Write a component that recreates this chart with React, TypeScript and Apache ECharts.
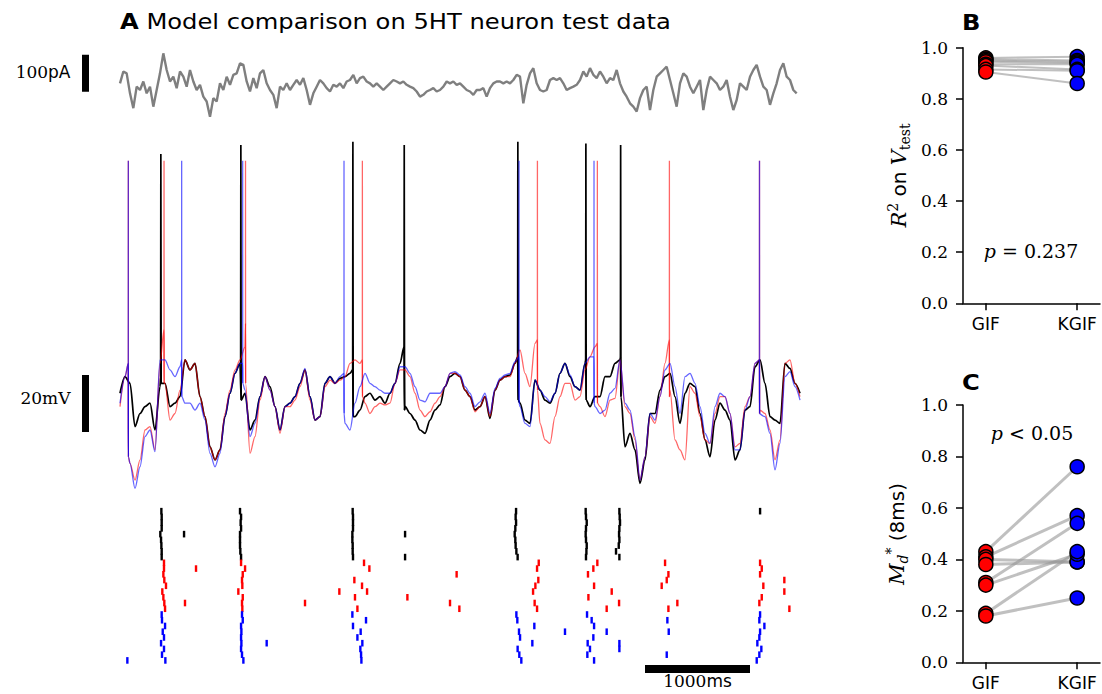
import React, { useEffect, useRef } from "react";
import * as echarts from "echarts";

// ---------- DATA ----------
// injected current (pA), sampled every CURRENT_DT ms from t = 0
const CURRENT_DT = 31.746;
const CURRENT_PA = [
  108, 140, 135, 81, 41, 99, 90, 113, 81, 99, 45, 90, 135, 189, 144, 113, 126, 95, 140, 126,
  99, 144, 113, 90, 104, 72, 59, 18, 68, 59, 108, 90, 126, 104, 131, 135, 162, 158, 113, 86,
  122, 95, 135, 144, 108, 90, 77, 41, 99, 90, 108, 90, 104, 117, 104, 122, 90, 50, 81, 99,
  117, 108, 95, 86, 104, 99, 108, 95, 113, 117, 131, 108, 122, 126, 113, 108, 99, 108, 99, 90,
  99, 108, 117, 113, 108, 113, 104, 99, 95, 86, 72, 77, 86, 90, 95, 86, 90, 99, 113,
  108, 113, 104, 108, 99, 90, 86, 77, 90, 90, 95, 72, 95, 108, 113, 113, 108, 113, 108, 117,
  131, 126, 54, 104, 135, 149, 108, 90, 86, 90, 117, 122, 117, 122, 108, 90, 95, 99, 104, 117,
  140, 126, 149, 131, 122, 140, 126, 108, 122, 117, 144, 108, 86, 72, 54, 45, 32, 68, 90, 99,
  36, 90, 126, 135, 144, 153, 117, 81, 45, 108, 135, 126, 99, 81, 99, 117, 36, 90, 126, 117,
  108, 90, 99, 117, 72, 36, 63, 108, 99, 90, 126, 144, 158, 126, 99, 90, 50, 81, 108, 144,
  162, 126, 117, 90, 81,
];

// membrane potential (mV), sampled every VOLT_DT ms from t = 0
const VOLT_DT = 47.619;
const DATA_V = [
  -50.4, -44.6, -46.9, -62.1, -57.5, -55.1, -53.9, -63.3, -48.1, -46.9,
  -55.1, -53.9, -51.6, -38.7, -42.2, -39.9, -51.6, -58.6, -69.2, -73.8,
  -70.3, -58.6, -50.4, -43.4, -39.9, -50.4, -63.3, -59.8, -51.6, -44.6,
  -48.1, -55.1, -63.3, -55.1, -53.9, -51.6, -46.9, -42.2, -51.6, -59.8,
  -58.6, -46.9, -44.6, -46.9, -45.2, -44.6, -43.4, -58.6, -56.3, -51.6,
  -50.4, -52.8, -51.6, -53.9, -50.4, -46.9, -39.9, -55.0, -57.5, -59.8,
  -63.3, -64.5, -59.8, -56.3, -54.5, -48.1, -44.6, -43.4, -44.6, -49.3,
  -51.6, -56.3, -55.1, -51.6, -59.2, -49.3, -45.8, -44.6, -44.0, -39.9,
  -53.9, -59.8, -61.0, -45.8, -49.3, -52.8, -53.9, -50.4, -43.4, -39.9,
  -44.6, -48.1, -49.3, -39.9, -55.1, -51.6, -51.6, -44.6, -44.6, -39.9,
  -38.7, -69.2, -64.5, -70.3, -82.0, -73.8, -57.5, -57.5, -49.3, -44.6,
  -43.4, -51.6, -61.0, -50.4, -46.9, -48.1, -57.5, -66.8, -72.7, -59.8,
  -53.9, -56.3, -59.8, -73.8, -70.3, -56.3, -55.1, -41.1, -38.7, -46.9,
  -58.6, -59.8, -61.0, -39.9, -41.7, -46.9, -50.4,
];
const GIF_V = [
  -55.1, -44.6, -75.0, -80.9, -73.8, -63.3, -62.1, -70.3, -39.9, -46.9,
  -59.8, -57.5, -49.3, -38.7, -42.2, -39.9, -51.6, -58.6, -69.2, -73.8,
  -70.3, -57.5, -49.3, -42.2, -38.7, -34.1, -71.5, -65.6, -52.8, -44.6,
  -49.3, -55.1, -64.5, -55.1, -55.1, -52.8, -48.1, -42.2, -52.8, -59.8,
  -58.6, -48.1, -45.8, -46.9, -45.8, -44.6, -39.9, -38.7, -39.9, -53.9,
  -57.5, -55.1, -53.9, -54.5, -53.9, -46.9, -42.2, -42.2, -44.6, -50.4,
  -56.3, -58.6, -56.9, -53.9, -51.6, -48.1, -43.4, -43.4, -44.6, -49.3,
  -51.6, -56.9, -55.1, -51.6, -58.6, -49.3, -45.8, -44.6, -44.6, -39.9,
  -35.2, -43.4, -48.1, -32.9, -61.0, -66.8, -68.0, -58.6, -51.6, -46.9,
  -46.9, -52.8, -51.6, -42.2, -37.6, -34.1, -55.1, -58.6, -52.8, -52.2,
  -38.7, -55.1, -57.5, -66.8, -80.9, -72.7, -58.6, -61.0, -51.6, -39.9,
  -49.3, -66.8, -70.3, -73.8, -48.1, -50.4, -58.6, -66.8, -68.0, -57.5,
  -51.6, -51.6, -57.5, -69.2, -68.0, -55.1, -51.6, -39.9, -56.3, -57.5,
  -63.3, -73.8, -66.8, -39.9, -38.7, -46.9, -51.6,
];
const KGIF_V = [
  -53.9, -44.6, -75.0, -83.8, -76.2, -65.6, -63.3, -70.9, -38.7, -38.7,
  -42.2, -44.6, -41.1, -53.9, -53.9, -56.3, -53.9, -59.8, -71.5, -76.2,
  -71.5, -58.6, -50.4, -43.4, -39.9, -49.3, -65.6, -61.0, -51.6, -44.6,
  -49.3, -55.1, -63.3, -55.1, -53.9, -51.6, -46.9, -41.7, -51.6, -59.8,
  -58.6, -46.9, -44.6, -46.9, -44.6, -61.0, -63.3, -53.9, -48.1, -43.4,
  -46.9, -48.1, -49.3, -50.4, -50.4, -46.9, -41.1, -41.1, -43.4, -48.1,
  -52.8, -53.4, -50.4, -50.4, -50.4, -48.1, -43.4, -42.8, -44.0, -48.1,
  -50.4, -55.1, -53.4, -50.4, -57.5, -48.7, -45.2, -44.0, -43.4, -39.3,
  -55.1, -61.0, -62.1, -45.8, -49.3, -51.6, -53.4, -50.4, -43.4, -39.9,
  -44.0, -48.1, -49.3, -39.9, -37.6, -55.1, -57.5, -56.3, -50.4, -48.7,
  -38.7, -53.9, -56.3, -65.6, -80.9, -72.7, -57.5, -59.8, -51.6, -42.2,
  -39.9, -48.1, -57.5, -44.6, -43.4, -46.9, -55.1, -64.5, -68.0, -55.1,
  -50.4, -51.6, -57.5, -70.3, -70.3, -56.3, -51.6, -39.9, -57.5, -58.6,
  -64.5, -77.3, -68.0, -44.6, -42.8, -48.1, -52.8,
];

// spikes: [time ms, V before, V peak, V after]
const DATA_SPIKES = [
  [387, -44.6, 33.6, -46.9], [1149, -39.9, 36.7, -52.8], [2216, -42.2, 37.9, -58.6],
  [2705, -34.1, 36.7, -56.3], [3787, -37.6, 37.9, -52.8], [4435, -38.7, 37.3, -52.8],
  [4766, -37.6, 36.7, -51.6],
];
const GIF_SPIKES = [
  [79, -39.9, 31.2, -72.7], [419, -28.2, 31.2, -46.9], [1195, -25.9, 31.2, -46.9],
  [2308, -38.7, 31.2, -51.6], [3975, -31.7, 31.2, -49.3], [4546, -32.9, 31.2, -53.9],
  [5232, -31.7, 31.2, -51.6], [6090, -38.7, 31.2, -57.5],
];
const KGIF_SPIKES = [
  [79, -39.9, 31.2, -72.7], [587, -38.7, 31.2, -51.6], [1168, -39.9, 31.2, -46.9],
  [2133, -43.4, 31.2, -57.5], [3800, -37.6, 31.2, -53.9], [4514, -37.6, 31.2, -53.9],
  [6090, -38.7, 31.2, -57.5],
];

// raster: [spike time ms, trial 0..8]
const DATA_RASTER = [
  [394, 0], [397, 1], [397, 2], [397, 3], [384, 4], [391, 5], [394, 6], [397, 7], [397, 8],
  [610, 4],
  [1143, 0], [1153, 1], [1149, 2], [1153, 3], [1143, 4], [1143, 5], [1143, 6], [1146, 7], [1153, 8],
  [2216, 0], [2219, 1], [2219, 2], [2219, 3], [2213, 4], [2213, 5], [2216, 6], [2216, 7], [2219, 8],
  [2715, 4], [2715, 8],
  [3772, 0], [3768, 1], [3772, 2], [3765, 3], [3759, 4], [3765, 5], [3768, 6], [3775, 7], [3787, 8],
  [4435, 0], [4438, 1], [4445, 2], [4438, 3], [4435, 4], [4438, 5], [4445, 6], [4442, 7], [4438, 8],
  [4756, 0], [4759, 1], [4762, 2], [4756, 3], [4753, 4], [4756, 5], [4750, 6], [4724, 7], [4756, 8],
  [6096, 0],
];
const GIF_RASTER = [
  [419, 0], [419, 1], [413, 2], [422, 3], [438, 4], [403, 5], [413, 6], [422, 7], [429, 8],
  [724, 1], [619, 7],
  [1153, 0], [1191, 1], [1169, 2], [1162, 3], [1165, 4], [1127, 5], [1169, 6], [1162, 7], [1165, 8],
  [1762, 7],
  [2324, 0], [2375, 1], [2232, 3], [2305, 4], [2089, 5], [2353, 5], [2238, 6], [2261, 8],
  [2737, 6],
  [3206, 2], [3143, 7], [3232, 8],
  [3988, 0], [3972, 1], [3984, 3], [3956, 4], [3934, 5], [3949, 7], [3972, 8],
  [4546, 0], [4508, 1], [4457, 2], [4515, 4], [4461, 6], [4635, 8], [4683, 5], [4753, 7],
  [5191, 0], [5223, 2], [5207, 3], [5159, 4], [5308, 7], [5223, 8],
  [6096, 0], [6112, 1], [6096, 2], [6127, 4], [6112, 6], [6089, 7],
  [6327, 3], [6327, 5], [6375, 8],
];
const KGIF_RASTER = [
  [397, 0], [400, 1], [429, 2], [407, 3], [419, 4], [391, 5], [419, 6], [400, 7], [432, 8],
  [70, 8],
  [1162, 0], [1169, 1], [1153, 2], [1156, 3], [1153, 4], [1156, 5], [1153, 6], [1162, 7], [1175, 8],
  [1397, 5],
  [2213, 0], [2343, 1], [2219, 2], [2292, 3], [2261, 4], [2308, 5], [2289, 6], [2296, 7], [2299, 8],
  [3775, 0], [3784, 1], [3800, 3], [3810, 4], [3787, 6], [3803, 7], [3822, 8],
  [3946, 2], [3927, 5], [4238, 3],
  [4448, 0], [4492, 1], [4515, 2], [4508, 4], [4454, 5], [4476, 6], [4451, 7], [4515, 8],
  [4635, 3], [4756, 5], [4756, 6],
  [5213, 1], [5226, 3], [5207, 7],
  [6096, 0], [6089, 1], [6137, 2], [6096, 3], [6089, 4], [6070, 5], [6108, 6], [6089, 7], [6064, 8],
];

// per-cell performance
const MODELS = ["GIF", "KGIF"];
const R2_GIF = [0.96, 0.955, 0.95, 0.945, 0.935, 0.93, 0.915, 0.905];
const R2_KGIF = [0.965, 0.95, 0.945, 0.94, 0.935, 0.915, 0.91, 0.86];
const MD_GIF = [0.43, 0.41, 0.4, 0.38, 0.31, 0.3, 0.19, 0.18];
const MD_KGIF = [0.76, 0.57, 0.39, 0.39, 0.54, 0.42, 0.43, 0.25];
const P_R2 = "0.237";
const P_MD = "0.05";

// scale bars
const BAR_PA = [85, 185];
const BAR_MV = [-64, -44];
const BAR_MS = [5000, 6000];

// ---------- LAYOUT ----------
const PX_PER_MS = 0.105;
const T_MIN = -120 / PX_PER_MS;
const T_MAX = 690 / PX_PER_MS;
const BAR_T = -34.5 / PX_PER_MS;
const RASTER_ROWS = 9;

// sub-threshold trace: samples plus the spike foot points
function subthreshold(vals: number[], spikes: number[][], width: number) {
  const pts: number[][] = vals.map((v, i) => [i * VOLT_DT, v]);
  for (const [t, a, , b] of spikes) {
    pts.push([t, a], [t + width, b]);
  }
  pts.sort((u, w) => u[0] - w[0]);
  return pts;
}

function spikeSeries(spikes: number[][], width: number, color: string, lw: number) {
  return spikes.map(([t, a, p, b]) => ({
    type: "line",
    xAxisIndex: 1,
    yAxisIndex: 1,
    data: [[t, a], [t + width * 0.4, p], [t + width, b]],
    symbol: "none",
    silent: true,
    lineStyle: { color, width: lw, join: "miter" },
  }));
}

function traceSeries(vals: number[], spikes: number[][], width: number, color: string, lw: number) {
  return [
    {
      type: "line",
      xAxisIndex: 1,
      yAxisIndex: 1,
      data: subthreshold(vals, spikes, width),
      symbol: "none",
      smooth: 0.3,
      smoothMonotone: "x",
      silent: true,
      lineStyle: { color, width: lw },
    },
    ...spikeSeries(spikes, width, color, lw),
  ];
}

const serif = "DejaVu Serif";
const sans = "DejaVu Sans";

function hiddenAxis(grid: number, min: number, max: number, inverse = false) {
  return { type: "value", gridIndex: grid, min, max, inverse, show: false, splitLine: { show: false } };
}

function panelAxes(grid: number) {
  const x = {
    type: "value",
    gridIndex: grid,
    min: -0.25,
    max: 1.25,
    axisLine: { show: true, onZero: false, lineStyle: { color: "#000", width: 1.5 } },
    axisTick: { show: true, customValues: [0, 1], length: 7, lineStyle: { color: "#000", width: 1.5 } },
    axisLabel: {
      show: true,
      customValues: [0, 1],
      formatter: (v: number) => MODELS[Math.round(v)] ?? "",
      fontFamily: sans,
      fontSize: 17,
      color: "#000",
      margin: 12,
    },
    splitLine: { show: false },
  };
  const y = {
    type: "value",
    gridIndex: grid,
    min: 0,
    max: 1,
    interval: 0.2,
    axisLine: { show: true, onZero: false, lineStyle: { color: "#000", width: 1.5 } },
    axisTick: { show: true, length: 7, lineStyle: { color: "#000", width: 1.5 } },
    axisLabel: {
      fontFamily: serif,
      fontSize: 17,
      color: "#000",
      margin: 15,
      formatter: (v: number) => v.toFixed(1),
    },
    splitLine: { show: false },
  };
  return { x, y };
}

function pairSeries(axis: number, a: number[], b: number[], lw: number) {
  const lines = a.map((g, i) => ({
    type: "line",
    xAxisIndex: axis,
    yAxisIndex: axis,
    data: [[0, g], [1, b[i]]],
    symbol: "none",
    silent: true,
    z: 2,
    lineStyle: { color: "rgba(150,150,150,0.6)", width: lw },
  }));
  const dots = [
    { vals: a, x: 0, color: "#ff0000" },
    { vals: b, x: 1, color: "#0000ff" },
  ].map((d) => ({
    type: "scatter",
    xAxisIndex: axis,
    yAxisIndex: axis,
    data: d.vals.map((v) => [d.x, v]),
    symbol: "circle",
    symbolSize: 14,
    z: 3,
    itemStyle: { color: d.color, borderColor: "#000", borderWidth: 1.5, opacity: 1 },
  }));
  return [...lines, ...dots];
}

function labelPoint(axis: number, pt: number[], text: string, position: string, distance: number) {
  return {
    type: "scatter",
    xAxisIndex: axis,
    yAxisIndex: axis,
    data: [pt],
    symbolSize: 0,
    z: 5,
    itemStyle: { color: "#000", opacity: 1 },
    silent: true,
    label: {
      show: true,
      position,
      distance,
      formatter: text,
      color: "#000",
      opacity: 1,
      textBorderWidth: 0,
      rich: {
        n: { fontFamily: serif, fontSize: 17, color: "#000", opacity: 1 },
        u: { fontFamily: sans, fontSize: 17, color: "#000", opacity: 1 },
      },
    },
  };
}

function rasterSeries(data: number[][], offset: number, color: string) {
  return {
    type: "scatter",
    xAxisIndex: 2,
    yAxisIndex: 2,
    data: data.map(([t, r]) => [t, offset + r + 0.5]),
    symbol: "rect",
    symbolSize: [2.4, 6.6],
    itemStyle: { color, opacity: 1 },
    silent: true,
  };
}

export default function App() {
  const ref = useRef<HTMLDivElement>(null);
  useEffect(() => {
    const chart = echarts.init(ref.current!, null, { renderer: "svg" });
    const pB = panelAxes(3);
    const pC = panelAxes(4);
    const option: any = {
      animation: false,
      backgroundColor: "#fff",
      textStyle: { fontFamily: sans },
      grid: [
        { left: 0, top: 40, width: 810, height: 83.333, outerBoundsMode: "none" },
        { left: 0, top: 130, width: 810, height: 370, outerBoundsMode: "none" },
        { left: 0, top: 508.3, width: 810, height: 5.74 * 32, outerBoundsMode: "none" },
        { left: 963, top: 47.7, width: 137, height: 255.6, outerBoundsMode: "none" },
        { left: 963, top: 405, width: 137, height: 257.3, outerBoundsMode: "none" },
      ],
      xAxis: [
        hiddenAxis(0, T_MIN, T_MAX),
        hiddenAxis(1, T_MIN, T_MAX),
        hiddenAxis(2, T_MIN, T_MAX),
        pB.x,
        pC.x,
      ],
      yAxis: [
        hiddenAxis(0, 0, 225),
        hiddenAxis(1, 42 - 370 * 0.351, 42),
        hiddenAxis(2, 0, 32, true),
        pB.y,
        pC.y,
      ],
      series: [
        {
          type: "line",
          xAxisIndex: 0,
          yAxisIndex: 0,
          data: CURRENT_PA.map((v, i) => [i * CURRENT_DT, v]),
          symbol: "none",
          silent: true,
          lineStyle: { color: "#7f7f7f", width: 2.4, join: "bevel" },
        },
        {
          type: "line",
          xAxisIndex: 0,
          yAxisIndex: 0,
          data: BAR_PA.map((v) => [BAR_T, v]),
          symbol: "none",
          lineStyle: { color: "#000", width: 7, cap: "butt" },
        },
        labelPoint(0, [BAR_T, 139], "{n|100}{u|pA}", "left", 15),
        ...traceSeries(DATA_V, DATA_SPIKES, 5, "#000000", 1.7),
        ...traceSeries(GIF_V, GIF_SPIKES, 1, "rgba(255,0,0,0.6)", 1.3),
        ...traceSeries(KGIF_V, KGIF_SPIKES, 1, "rgba(0,0,255,0.6)", 1.3),
        {
          type: "line",
          xAxisIndex: 1,
          yAxisIndex: 1,
          data: BAR_MV.map((v) => [BAR_T, v]),
          symbol: "none",
          lineStyle: { color: "#000", width: 7, cap: "butt" },
        },
        labelPoint(1, [BAR_T, -52], "{n|20mV}", "left", 15),
        rasterSeries(DATA_RASTER, 0, "#000000"),
        rasterSeries(GIF_RASTER, RASTER_ROWS, "#ff0000"),
        rasterSeries(KGIF_RASTER, RASTER_ROWS * 2, "#0000ff"),
        {
          type: "line",
          xAxisIndex: 2,
          yAxisIndex: 2,
          data: BAR_MS.map((t) => [t, 28]),
          symbol: "none",
          lineStyle: { color: "#000", width: 8, cap: "butt" },
        },
        labelPoint(2, [(BAR_MS[0] + BAR_MS[1]) / 2, 28], "{n|1000}{u|ms}", "bottom", 3),
        ...pairSeries(3, R2_GIF, R2_KGIF, 2),
        ...pairSeries(4, MD_GIF, MD_KGIF, 3),
      ],
      graphic: [
        {
          type: "text",
          x: 120,
          y: 21,
          scaleX: 1.1,
          style: {
            text: "{b|A} Model comparison on 5HT neuron test data",
            fontFamily: sans,
            fontSize: 22,
            fill: "#000",
            verticalAlign: "middle",
            rich: { b: { fontFamily: sans, fontSize: 22, fontWeight: "bold" } },
          },
        },
        {
          type: "text",
          x: 962,
          y: 22.5,
          scaleX: 1.1,
          style: { text: "B", fontFamily: sans, fontSize: 22, fontWeight: "bold", fill: "#000", verticalAlign: "middle" },
        },
        {
          type: "text",
          x: 962,
          y: 382.5,
          scaleX: 1.1,
          style: { text: "C", fontFamily: sans, fontSize: 22, fontWeight: "bold", fill: "#000", verticalAlign: "middle" },
        },
        {
          type: "text",
          x: 899,
          y: 175.5,
          rotation: Math.PI / 2,
          style: {
            text: "{it|R}{sup|2}{sf| on }{it|V}{sub|test}",
            align: "center",
            verticalAlign: "middle",
            fill: "#000",
            rich: {
              it: { fontFamily: serif, fontStyle: "italic", fontSize: 21, lineHeight: 26 },
              sup: { fontFamily: serif, fontSize: 14, verticalAlign: "top", lineHeight: 26 },
              sub: { fontFamily: serif, fontSize: 14, verticalAlign: "bottom", lineHeight: 26, padding: [8, 0, 0, 0] },
              sf: { fontFamily: sans, fontSize: 20, lineHeight: 26 },
            },
          },
        },
        {
          type: "text",
          x: 897,
          y: 534,
          rotation: Math.PI / 2,
          style: {
            text: "{it|M}{sub|d}{sup|*}{sf| (8ms)}",
            align: "center",
            verticalAlign: "middle",
            fill: "#000",
            rich: {
              it: { fontFamily: serif, fontStyle: "italic", fontSize: 21, lineHeight: 26 },
              sup: { fontFamily: serif, fontSize: 14, verticalAlign: "top", lineHeight: 26 },
              sub: { fontFamily: serif, fontStyle: "italic", fontSize: 14, verticalAlign: "bottom", lineHeight: 26, padding: [8, 0, 0, 0] },
              sf: { fontFamily: sans, fontSize: 20, lineHeight: 26 },
            },
          },
        },
        {
          type: "text",
          x: 1031,
          y: 251,
          style: {
            text: `{it|p} = ${P_R2}`,
            align: "center",
            verticalAlign: "middle",
            fontFamily: serif,
            fontSize: 19,
            fill: "#000",
            rich: { it: { fontFamily: serif, fontStyle: "italic", fontSize: 19 } },
          },
        },
        {
          type: "text",
          x: 1032,
          y: 433,
          style: {
            text: `{it|p} < ${P_MD}`,
            align: "center",
            verticalAlign: "middle",
            fontFamily: serif,
            fontSize: 19,
            fill: "#000",
            rich: { it: { fontFamily: serif, fontStyle: "italic", fontSize: 19 } },
          },
        },
      ],
    };
    chart.setOption(option);
    return () => chart.dispose();
  }, []);
  return (
    <div
      ref={ref}
      style={{ position: "fixed", left: 0, top: 0, width: 1102, height: 694, background: "#fff" }}
    />
  );
}
